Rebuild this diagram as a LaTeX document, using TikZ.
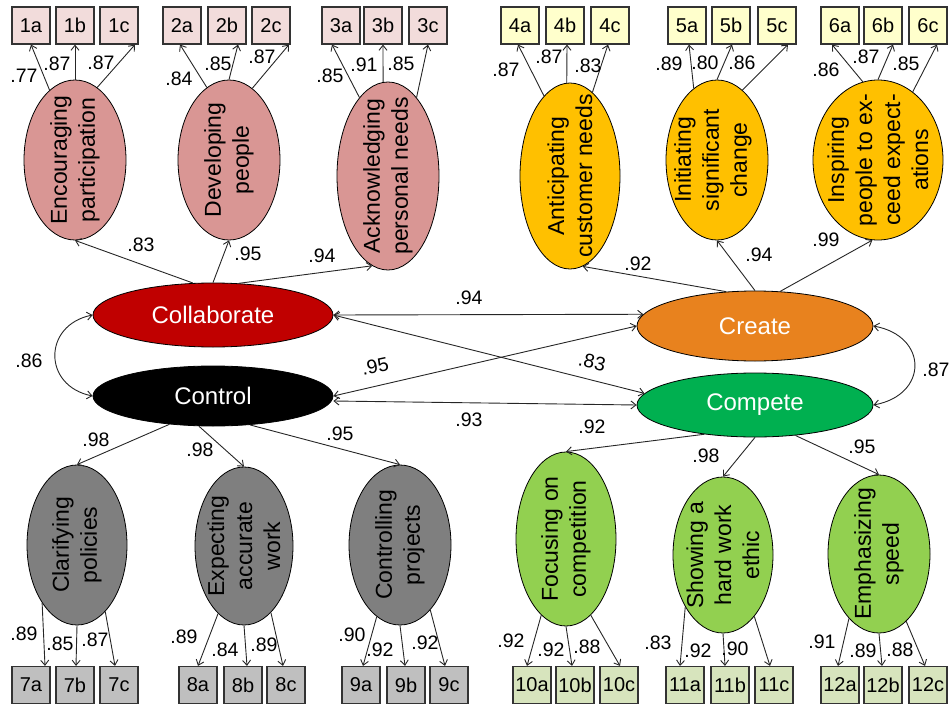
\documentclass[tikz,border=0pt]{standalone}
\usepackage{fontspec}
\setmainfont{Liberation Sans}
\usetikzlibrary{shapes.geometric,arrows.meta}
\definecolor{pinkE}{HTML}{D99694}
\definecolor{pinkB}{HTML}{F2DCDB}
\definecolor{yelE}{HTML}{FFC000}
\definecolor{yelB}{HTML}{FFFFCC}
\definecolor{collC}{HTML}{C00000}
\definecolor{creC}{HTML}{E8821E}
\definecolor{compC}{HTML}{00B050}
\definecolor{grayE}{HTML}{7F7F7F}
\definecolor{grayB}{HTML}{BFBFBF}
\definecolor{grnE}{HTML}{92D050}
\definecolor{grnB}{HTML}{D7E4BD}
\newcommand\myNumFont{\fontsize{19.5}{20}\selectfont}
\newcommand\myBoxFont{\fontsize{20}{20}\selectfont}
\newcommand\myEllFont{\fontsize{23}{28}\selectfont}
\newcommand\myMainFont{\fontsize{24}{24}\selectfont}
\begin{document}
\begin{tikzpicture}[x=1pt,y=-1pt,
  ell/.style={ellipse, draw=black, line width=0.8pt, inner sep=0pt},
  etext/.style={rotate=90, align=center, font=\myEllFont, inner sep=0pt, text=black},
  mainE/.style={ellipse, draw=black, line width=0.8pt, inner sep=0pt, font=\myMainFont, text=white},
  bx/.style={rectangle, draw=black!80, line width=1.2pt, minimum width=38pt, minimum height=37pt, inner sep=0pt, font=\myBoxFont},
  boxP/.style={bx, fill=pinkB},
  boxY/.style={bx, fill=yelB},
  boxG/.style={bx, fill=grayB},
  boxL/.style={bx, fill=grnB},
  num/.style={font=\myNumFont, inner sep=0pt, text=black},
  arr/.style={-{Straight Barb[length=5pt,width=8pt]}, line width=0.9pt, draw=black!85},
  darr/.style={{Straight Barb[length=5pt,width=8pt]}-{Straight Barb[length=5pt,width=8pt]}, line width=0.9pt, draw=black!85}
]
\useasboundingbox (0,0) rectangle (950,706);

% ---------- top boxes ----------
\foreach \n/\x in {1a/31,1b/75,1c/119,2a/182,2b/227,2c/271,3a/341,3b/383,3c/428}
  \node[boxP] (b\n) at (\x,25.5) {\n};
\foreach \n/\x in {4a/520,4b/565,4c/610,5a/687,5b/731,5c/777,6a/840,6b/883,6c/928}
  \node[boxY] (b\n) at (\x,25.5) {\n};
% ---------- bottom boxes ----------
\foreach \n/\x in {7a/31,7b/75,7c/119,8a/198,8b/243,8c/286,9a/361,9b/406,9c/449}
  \node[boxG] (b\n) at (\x,685) {\n};
\foreach \n/\x in {10a/532,10b/575,10c/619,11a/685,11b/730,11c/774,12a/840,12b/883,12c/928}
  \node[boxL] (b\n) at (\x,685) {\n};

% ---------- top ellipses ----------
\node[ell, fill=pinkE, minimum width=102pt, minimum height=160pt] (e1) at (75,160) {};
\node[etext] (t1) at (e1.center) {Encouraging\\participation};
\node[ell, fill=pinkE, minimum width=102pt, minimum height=160pt] (e2) at (229,160) {};
\node[etext] (t2) at (e2.center) {Developing\\people};
\node[ell, fill=pinkE, minimum width=102pt, minimum height=188pt] (e3) at (388,176) {};
\node[etext] (t3) at (e3.center) {Acknowledging\\personal needs};
\node[ell, fill=yelE, minimum width=100pt, minimum height=186pt] (e4) at (570,176) {};
\node[etext] (t4) at (e4.center) {Anticipating\\customer needs};
\node[ell, fill=yelE, minimum width=102pt, minimum height=160pt] (e5) at (717,160) {};
\node[etext] (t5) at ([xshift=-4pt]e5.center) {Initiating\\significant\\change};
\node[ell, fill=yelE, minimum width=130pt, minimum height=160pt] (e6) at (878,160) {};
\node[etext] (t6) at (e6.center) {Inspiring\\people to ex-\\ceed expect-\\ations};

% ---------- main ellipses ----------
\node[mainE, fill=collC, minimum width=240pt, minimum height=64pt] (coll) at (213,315) {Collaborate};
\node[mainE, fill=black, minimum width=240pt, minimum height=60pt] (ctrl) at (213,396) {Control};
\node[mainE, fill=creC, minimum width=236pt, minimum height=70pt] (cre) at (755,326) {Create};
\node[mainE, fill=compC, minimum width=236pt, minimum height=64pt] (comp) at (755,405) {Compete};

% ---------- bottom ellipses ----------
\node[ell, fill=grayE, minimum width=100pt, minimum height=160pt] (e7) at (77,545) {};
\node[etext] (t7) at (e7.center) {Clarifying\\policies};
\node[ell, fill=grayE, minimum width=98pt, minimum height=158pt] (e8) at (244,546) {};
\node[etext] (t8) at (e8.center) {Expecting\\accurate\\work};
\node[ell, fill=grayE, minimum width=102pt, minimum height=160pt] (e9) at (400,545) {};
\node[etext] (t9) at (e9.center) {Controlling\\projects};
\node[ell, fill=grnE, minimum width=100pt, minimum height=174pt] (e10) at (566,539) {};
\node[etext] (t10) at (e10.center) {Focusing on\\competition};
\node[ell, fill=grnE, minimum width=100pt, minimum height=156pt] (e11) at (723,555) {};
\node[etext] (t11) at (e11.center) {Showing a\\hard work\\ethic};
\node[ell, fill=grnE, minimum width=102pt, minimum height=158pt] (e12) at (879,554) {};
\node[etext] (t12) at (e12.center) {Emphasizing\\speed};

% ---------- loadings to top boxes ----------
\draw[arr] (e1.110) -- (b1a.south);
\draw[arr] (e1.90) -- (b1b.south);
\draw[arr] (e1.73) -- ([xshift=16pt]b1c.south);
\draw[arr] (e2.107) -- ([xshift=-2pt]b2a.south);
\draw[arr] (e2.90) -- ([xshift=11pt]b2b.south);
\draw[arr] (e2.72) -- ([xshift=18pt]b2c.south);
\draw[arr] (e3.110) -- ([xshift=-9pt]b3a.south);
\draw[arr] (e3.93) -- (b3b.south);
\draw[arr] (e3.70) -- (b3c.south);
\draw[arr] (e4.108) -- ([xshift=-2pt]b4a.south);
\draw[arr] (e4.92) -- ([xshift=2pt]b4b.south);
\draw[arr] (e4.75) -- ([xshift=-2pt]b4c.south);
\draw[arr] (e5.108) -- ([xshift=2pt]b5a.south);
\draw[arr] (e5.90) -- ([xshift=1pt]b5b.south);
\draw[arr] (e5.70) -- ([xshift=11pt]b5c.south);
\draw[arr] (e6.101) -- ([xshift=-8pt]b6a.south);
\draw[arr] (e6.90) -- ([xshift=10pt]b6b.south);
\draw[arr] (e6.63) -- ([xshift=9pt]b6c.south);

% ---------- loadings to bottom boxes ----------
\draw[arr] (e7.239) -- ([xshift=14pt]b7a.north);
\draw[arr] (e7.270) -- ([xshift=1pt]b7b.north);
\draw[arr] (e7.293) -- ([xshift=-4pt]b7c.north);
\draw[arr] (e8.249) -- (b8a.north);
\draw[arr] (e8.270) -- ([xshift=4pt]b8b.north);
\draw[arr] (e8.292) -- ([xshift=-3pt]b8c.north);
\draw[arr] (e9.252) -- ([xshift=2pt]b9a.north);
\draw[arr] (e9.270) -- ([xshift=-1pt]b9b.north);
\draw[arr] (e9.295) -- ([xshift=-4pt]b9c.north);
\draw[arr] (e10.252) -- ([xshift=-5pt]b10a.north);
\draw[arr] (e10.270) -- ([xshift=-3pt]b10b.north);
\draw[arr] (e10.288) -- ([xshift=1pt]b10c.north);
\draw[arr] (e11.234) -- ([xshift=-5pt]b11a.north);
\draw[arr] (e11.270) -- ([xshift=-5pt]b11b.north);
\draw[arr] (e11.297) -- ([xshift=-4pt]b11c.north);
\draw[arr] (e12.245) -- ([xshift=-2pt]b12a.north);
\draw[arr] (e12.270) -- ([xshift=-1pt]b12b.north);
\draw[arr] (e12.292) -- ([xshift=-3pt]b12c.north);

% ---------- structural paths ----------
\draw[arr] (coll.122) -- (e1.south);
\draw[arr] (coll.north) -- (e2.south);
\draw[arr] (coll.51) -- (e3.260);
\draw[arr] (cre.130) -- (e4.278);
\draw[arr] (cre.north) -- (e5.south);
\draw[arr] (cre.54) -- (e6.266);
\draw[arr] (ctrl.213) -- (e7.north);
\draw[arr] (ctrl.245) -- (e8.north);
\draw[arr] (ctrl.322) -- (e9.north);
\draw[arr] (comp.210) -- (e10.north);
\draw[arr] (comp.south) -- (e11.north);
\draw[arr] (comp.323) -- (e12.north);

% ---------- correlations ----------
\draw[darr] (coll.east) -- (cre.174);
\draw[darr] (coll.east) -- (comp.174);
\draw[darr] (ctrl.east) -- (cre.west);
\draw[darr] ([yshift=-5pt]ctrl.east) -- (comp.west);
\draw[darr] (coll.west) .. controls +(-50,10) and +(-50,-10) .. (ctrl.west);
\draw[darr] (cre.east) .. controls +(55,10) and +(55,-10) .. (comp.east);

% ---------- numeric labels ----------
\foreach \t/\x/\y [count=\i] in {
  .77/24/76, .87/57/64, .87/101/63, .84/179/79, .85/218/64, .87/262/57,
  .85/330/76, .91/364/65, .85/401/64, .87/506/70, .87/549/57, .83/588/66,
  .89/669/64, .80/705/63, .86/742/63, .86/826/70, .87/866/57, .85/906/64,
  .83/141/245, .95/248/254, .94/322/256, .92/638/264, .94/759/255, .99/826/240,
  .94/469/298, .93/469/420, .86/29/361, .87/936/370,
  .98/96/440, .98/200/450, .95/340/434, .92/592/427, .98/706/456, .95/862/447,
  .89/24/634, .85/60/644, .87/95/640, .89/184/637, .84/225/650, .89/264/645,
  .90/352/635, .92/380/650, .92/425/643, .92/511/641, .92/551/650, .88/587/647,
  .83/658/643, .92/698/651, .90/735/649, .91/822/642, .89/863/651, .88/900/650}
  \node[num] (n\i) at (\x,\y) {\t};
\node[num, rotate=12] (nr1) at (375,366) {.95};
\node[num, rotate=-12] (nr2) at (592,362) {.83};
\end{tikzpicture}
\end{document}
